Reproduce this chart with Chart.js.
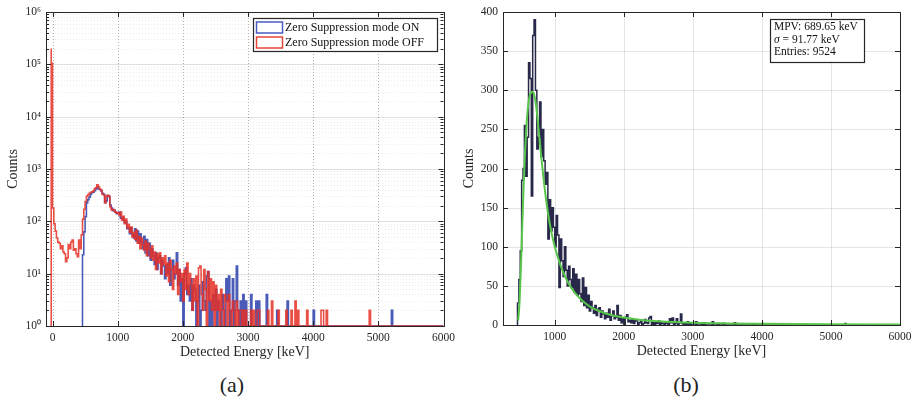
<!DOCTYPE html>
<html>
<head>
<meta charset="utf-8">
<script src="https://cdn.jsdelivr.net/npm/chart.js@4.4.1/dist/chart.umd.min.js"></script>
<style>
  html, body { margin: 0; padding: 0; background: #fff; }
  body { width: 918px; height: 403px; position: relative; overflow: hidden; font-family: 'Liberation Serif', serif; }
  .panel { position: absolute; top: 0; height: 362px; }
  #panelA { left: 0; width: 460px; }
  #panelB { left: 459px; width: 459px; }
  .caption { position: absolute; top: 373px; width: 60px; text-align: center; font-size: 22px; line-height: 24px; color: #222; }
</style>
</head>
<body>
<div class="panel" id="panelA"><canvas id="chartA"></canvas></div>
<div class="panel" id="panelB"><canvas id="chartB"></canvas></div>
<div class="caption" style="left:202px">(a)</div>
<div class="caption" style="left:656px">(b)</div>
<script>
const BIN_WIDTH = 20;
const E_MAX = 6000;

const seriesNames = ['Zero Suppression mode ON', 'Zero Suppression mode OFF'];
const legendColors = ['#4a5cc0', '#e8453a'];

// (a) zero suppression OFF, bins from -20 keV
const offStart = -20;
const offCounts = [
  200000, 105000, 180, 90, 65, 48, 40, 38, 30, 34, 26, 24, 17, 20, 36, 30, 40, 44, 28, 30, 24, 21, 44, 30,
  55, 110, 170, 240, 300, 320, 345, 360, 365, 380, 420, 440, 500, 460, 410, 390, 330, 320, 225, 300, 315, 300,
  190, 165, 170, 160, 150, 143, 145, 130, 150, 105, 125, 90, 110, 75, 88, 62, 78, 50, 62, 45, 68, 38, 52, 30,
  48, 35, 28, 42, 22, 38, 30, 20, 34, 18, 26, 12, 24, 16, 25, 10, 20, 15, 22, 9, 16, 7, 18, 12, 5, 14, 10, 16,
  4, 12, 7,
  10, 3, 12, 5, 16, 4, 10, 6, 2, 8, 3, 9, 0, 13, 14, 4, 2, 12, 5, 0, 11, 3, 8, 2, 7, 0, 6, 2, 4, 0,
  5, 2, 0, 4, 3, 0, 4, 2, 0, 3, 2, 0, 3, 0, 2, 2, 0, 2, 0, 2
];
const offTail = [[3060, 2], [3100, 2], [3160, 2], [3180, 2], [3320, 2], [3380, 3], [3480, 2], [3600, 2],
  [3680, 2], [3740, 3], [3780, 2], [3920, 2], [4140, 2], [4160, 2], [4220, 2], [4880, 2]];

// (a) zero suppression ON, bins from 460 keV
const onStartA = 460;
const onCountsA = [
  5, 23, 63, 123, 225, 260, 290, 330, 355, 360, 385, 415, 440, 420, 405, 380, 345, 330, 230, 245, 310, 300,
  205, 180, 160, 165, 150, 140, 145, 150, 115, 120, 110, 95, 100, 72, 75, 58, 75, 55, 48, 72, 42, 65, 38, 58,
  40, 30, 52, 25, 45, 22, 38, 18, 30, 22, 15, 25, 12, 20, 22, 10, 18, 14, 8, 15, 10, 20, 6, 12, 18, 8, 10, 25,
  6, 12, 3,
  8, 0, 10, 13, 4, 6, 3, 8, 2, 6, 5, 0, 3, 6, 0, 2, 7, 3, 2, 9, 11, 0, 3, 0, 4, 2, 5, 0, 3, 2,
  0, 4, 2, 0, 8, 3, 9, 0, 2, 8, 0, 3, 14, 2, 0, 3, 0, 4, 0, 3
];

// (b) zero suppression ON, bins from 460 keV
const onStartB = 460;
const onCountsB = [
  4, 28, 58, 95, 185, 200, 255, 190, 240, 335, 315, 165, 370, 390, 300, 225, 240, 285, 215, 250, 210, 180,
  195, 110, 160, 120, 150, 125, 100, 140, 115, 48, 110, 82, 62, 100, 70, 50, 75, 58, 48, 72, 42, 65, 38, 58,
  40, 30, 60, 25, 48, 22, 38, 18, 30, 22, 15, 25, 12, 20, 22, 10, 18, 14, 8, 15, 10, 20, 6, 12, 18, 8, 10, 25,
  6, 12, 3,
  8, 0, 10, 13, 4, 6, 3, 8, 2, 6, 5, 0, 3, 6, 0, 2, 7, 3, 2, 9, 11, 0, 3, 0, 4, 2, 5, 0, 3, 2,
  0, 4, 2, 0, 8, 3, 9, 0, 2, 8, 0, 3, 14, 2, 0, 3, 0, 4, 0, 3
];
const onTail = [[3060, 4], [3140, 3], [3180, 3], [3300, 4], [3380, 1], [3460, 2], [3620, 3], [3900, 1],
  [4020, 2], [5220, 2]];

// (b) Landau fit
const fitEnergy = [470, 490, 510, 530, 550, 570, 590, 610, 630, 650, 670, 690, 710, 730, 750, 770, 800, 830,
  860, 900, 950, 1000, 1050, 1100, 1150, 1200, 1300, 1400, 1500, 1600, 1800, 2000, 2250, 2500, 3000, 3500,
  4000, 5000, 6000];
const fitCounts = [6, 30, 75, 130, 180, 222, 255, 277, 290, 296, 298, 297, 291, 280, 264, 246, 219, 193,
  170, 144, 119, 100, 85, 72, 62, 53, 40, 31, 24, 19.5, 13, 9.5, 6.5, 4.8, 2.9, 2.0, 1.5, 0.9, 0.6];
const fitMpv = 689.65;
const fitSigma = 91.77;
const fitEntries = 9524;

const xTicksA = [0, 1000, 2000, 3000, 4000, 5000, 6000];
const yDecades = [1, 10, 100, 1000, 10000, 100000, 1000000];
const yDecadeLabels = ['10⁰', '10¹', '10²', '10³', '10⁴', '10⁵', '10⁶'];
const xTicksB = [1000, 2000, 3000, 4000, 5000, 6000];
const yTicksB = [0, 50, 100, 150, 200, 250, 300, 350, 400];

const xTitle = 'Detected Energy [keV]';
const yTitle = 'Counts';

const INK = '#262626';
Chart.defaults.font.family = "'Liberation Serif', serif";
Chart.defaults.color = INK;

// step-line points for a histogram; sparse tail bins fill in after the dense list
function histPoints(start, counts, tail, floor) {
  const extra = new Map(tail);
  const pts = [{ x: start, y: floor }];
  for (let e = start; e < E_MAX; e += BIN_WIDTH) {
    const i = (e - start) / BIN_WIDTH;
    const c = i < counts.length ? counts[i] : (extra.get(e) || 0);
    pts.push({ x: e, y: Math.max(c, floor) });
  }
  pts.push({ x: E_MAX, y: floor });
  return pts;
}

// minor ticks for the log axis (1..9 per decade)
const logTicks = [];
yDecades.slice(0, -1).forEach(d => { for (let m = 1; m < 10; m++) logTicks.push(d * m); });
logTicks.push(yDecades[yDecades.length - 1]);

function isDecade(v) {
  const l = Math.log10(v);
  return Math.abs(l - Math.round(l)) < 1e-9;
}

// grid lines, box and inward tick marks, MATLAB style
const frameGrid = {
  id: 'frameGrid',
  beforeDatasetsDraw(chart, args, o) {
    const { ctx, chartArea: a, scales: { x, y } } = chart;
    ctx.save();
    ctx.lineWidth = 1;
    x.ticks.forEach(t => {
      const px = Math.round(x.getPixelForValue(t.value)) + 0.5;
      if (px < a.left + 2 || px > a.right - 2) return;
      ctx.strokeStyle = o.xColor;
      ctx.setLineDash(o.xDash || []);
      ctx.beginPath(); ctx.moveTo(px, a.top); ctx.lineTo(px, a.bottom); ctx.stroke();
    });
    y.ticks.forEach(t => {
      const py = Math.round(y.getPixelForValue(t.value)) + 0.5;
      if (py < a.top + 2 || py > a.bottom - 2) return;
      const major = !o.log || isDecade(t.value);
      ctx.strokeStyle = major ? o.yMajorColor : o.yMinorColor;
      ctx.setLineDash(major ? [] : (o.yMinorDash || []));
      ctx.beginPath(); ctx.moveTo(a.left, py); ctx.lineTo(a.right, py); ctx.stroke();
    });
    ctx.restore();
  },
  afterDatasetsDraw(chart, args, o) {
    const { ctx, chartArea: a, scales: { x, y } } = chart;
    ctx.save();
    ctx.strokeStyle = INK;
    ctx.lineWidth = 1;
    ctx.beginPath();
    x.ticks.forEach(t => {
      const px = Math.round(x.getPixelForValue(t.value)) + 0.5;
      ctx.moveTo(px, a.bottom); ctx.lineTo(px, a.bottom - 5);
      ctx.moveTo(px, a.top); ctx.lineTo(px, a.top + 5);
    });
    y.ticks.forEach(t => {
      const py = Math.round(y.getPixelForValue(t.value)) + 0.5;
      const len = (!o.log || isDecade(t.value)) ? 5 : 3;
      ctx.moveTo(a.left, py); ctx.lineTo(a.left + len, py);
      ctx.moveTo(a.right, py); ctx.lineTo(a.right - len, py);
    });
    ctx.stroke();
    ctx.strokeRect(Math.round(a.left) + 0.5, Math.round(a.top) + 0.5,
      Math.round(a.right - a.left), Math.round(a.bottom - a.top));
    ctx.restore();
  }
};

const legendA = {
  id: 'legendA',
  afterDraw(chart) {
    const { ctx, chartArea: a } = chart;
    const w = 184, h = 33;
    const bx = Math.round(a.right - 7 - w), by = Math.round(a.top + 6);
    ctx.save();
    ctx.fillStyle = '#fff';
    ctx.fillRect(bx, by, w, h);
    ctx.strokeStyle = INK;
    ctx.lineWidth = 1.2;
    ctx.strokeRect(bx + 0.5, by + 0.5, w, h);
    ctx.font = "12px 'Liberation Serif'";
    ctx.textBaseline = 'middle';
    seriesNames.forEach((name, i) => {
      const cy = by + 9 + i * 15;
      ctx.strokeStyle = legendColors[i];
      ctx.lineWidth = 1.5;
      ctx.strokeRect(bx + 3.5, cy - 5, 26, 11);
      ctx.fillStyle = '#111';
      ctx.fillText(name, bx + 32, cy + 1);
    });
    ctx.restore();
  }
};

const statsB = {
  id: 'statsB',
  afterDraw(chart) {
    const { ctx, chartArea: a } = chart;
    const w = 94, h = 43;
    const bx = Math.round(a.right - 36 - w), by = Math.round(a.top + 7);
    ctx.save();
    ctx.fillStyle = '#fff';
    ctx.fillRect(bx, by, w, h);
    ctx.strokeStyle = INK;
    ctx.lineWidth = 1.2;
    ctx.strokeRect(bx + 0.5, by + 0.5, w, h);
    ctx.fillStyle = '#111';
    ctx.textBaseline = 'middle';
    const font = "11.5px 'Liberation Serif'";
    ctx.font = font;
    ctx.fillText('MPV: ' + fitMpv.toFixed(2) + ' keV', bx + 4, by + 8);
    ctx.font = "italic 11.5px 'Liberation Serif'";
    ctx.fillText('σ', bx + 4, by + 20.5);
    const sw = ctx.measureText('σ').width;
    ctx.font = font;
    ctx.fillText(' = ' + fitSigma.toFixed(2) + ' keV', bx + 4 + sw, by + 20.5);
    ctx.fillText('Entries: ' + fitEntries, bx + 4, by + 33);
    ctx.restore();
  }
};

function axisTitle(text, pad) {
  return { display: true, text: text, color: INK, font: { size: 14 }, padding: pad };
}

// (a) log-scale comparison
new Chart(document.getElementById('chartA'), {
  type: 'line',
  data: {
    datasets: [
      {
        label: seriesNames[1],
        data: histPoints(offStart, offCounts, offTail, 1),
        borderColor: 'rgba(230,48,38,0.85)',
        borderWidth: 1.6,
        stepped: 'after',
        pointRadius: 0,
        fill: false,
        order: 0
      },
      {
        label: seriesNames[0],
        data: histPoints(onStartA, onCountsA, onTail, 1),
        borderColor: 'rgba(44,62,172,0.85)',
        borderWidth: 1.6,
        stepped: 'after',
        pointRadius: 0,
        fill: false,
        order: 1
      }
    ]
  },
  options: {
    responsive: true,
    maintainAspectRatio: false,
    animation: false,
    layout: { padding: { top: 12, right: 16, left: 0, bottom: 0 } },
    plugins: {
      legend: { display: false },
      tooltip: { enabled: false },
      frameGrid: {
        xColor: 'rgba(0,0,0,0.3)', xDash: [1, 2],
        yMajorColor: 'rgba(0,0,0,0.12)', yMinorColor: 'rgba(0,0,0,0.08)', yMinorDash: [1, 2],
        log: true
      }
    },
    scales: {
      x: {
        type: 'linear',
        min: -100,
        max: E_MAX,
        grid: { display: false, drawTicks: false },
        border: { display: false },
        afterBuildTicks: s => { s.ticks = xTicksA.map(v => ({ value: v })); },
        afterFit: s => { s.height = 36; },
        ticks: { autoSkip: false, maxRotation: 0, padding: 5, font: { size: 11.5 }, color: INK, callback: v => String(v) },
        title: axisTitle(xTitle, { top: 0, bottom: 1 })
      },
      y: {
        type: 'logarithmic',
        min: 1,
        max: 1e6,
        grid: { display: false, drawTicks: false },
        border: { display: false },
        afterBuildTicks: s => { s.ticks = logTicks.map(v => ({ value: v })); },
        afterFit: s => { s.width = 46; },
        ticks: {
          autoSkip: false, padding: 5, font: { size: 11.5 }, color: INK,
          callback: v => { const k = yDecades.indexOf(v); return k >= 0 ? yDecadeLabels[k] : ''; }
        },
        title: axisTitle(yTitle, { top: 5, bottom: 0 })
      }
    }
  },
  plugins: [frameGrid, legendA]
});

// (b) ON spectrum with Landau fit
new Chart(document.getElementById('chartB'), {
  type: 'line',
  data: {
    datasets: [
      {
        label: 'Fit',
        data: fitEnergy.map((e, i) => ({ x: e, y: fitCounts[i] })),
        borderColor: '#58c64a',
        borderWidth: 2,
        cubicInterpolationMode: 'monotone',
        pointRadius: 0,
        fill: false,
        order: 0
      },
      {
        label: seriesNames[0],
        data: histPoints(onStartB, onCountsB, onTail, 0),
        borderColor: 'rgba(28,28,64,0.95)',
        borderWidth: 1.5,
        stepped: 'after',
        pointRadius: 0,
        fill: false,
        order: 1
      }
    ]
  },
  options: {
    responsive: true,
    maintainAspectRatio: false,
    animation: false,
    layout: { padding: { top: 12, right: 18, left: 0, bottom: 0 } },
    plugins: {
      legend: { display: false },
      tooltip: { enabled: false },
      frameGrid: {
        xColor: 'rgba(0,0,0,0.1)', yMajorColor: 'rgba(0,0,0,0.1)', yMinorColor: 'rgba(0,0,0,0.1)',
        log: false
      }
    },
    scales: {
      x: {
        type: 'linear',
        min: 250,
        max: E_MAX,
        grid: { display: false, drawTicks: false },
        border: { display: false },
        afterBuildTicks: s => { s.ticks = xTicksB.map(v => ({ value: v })); },
        afterFit: s => { s.height = 37; },
        ticks: { autoSkip: false, maxRotation: 0, padding: 5, font: { size: 11.5 }, color: INK, callback: v => String(v) },
        title: axisTitle(xTitle, { top: 0, bottom: 2.5 })
      },
      y: {
        type: 'linear',
        min: 0,
        max: 400,
        grid: { display: false, drawTicks: false },
        border: { display: false },
        afterBuildTicks: s => { s.ticks = yTicksB.map(v => ({ value: v })); },
        afterFit: s => { s.width = 44; },
        ticks: { autoSkip: false, padding: 5, font: { size: 11.5 }, color: INK, callback: v => String(v) },
        title: axisTitle(yTitle, { top: 1.5, bottom: 0 })
      }
    }
  },
  plugins: [frameGrid, statsB]
});
</script>
</body>
</html>
